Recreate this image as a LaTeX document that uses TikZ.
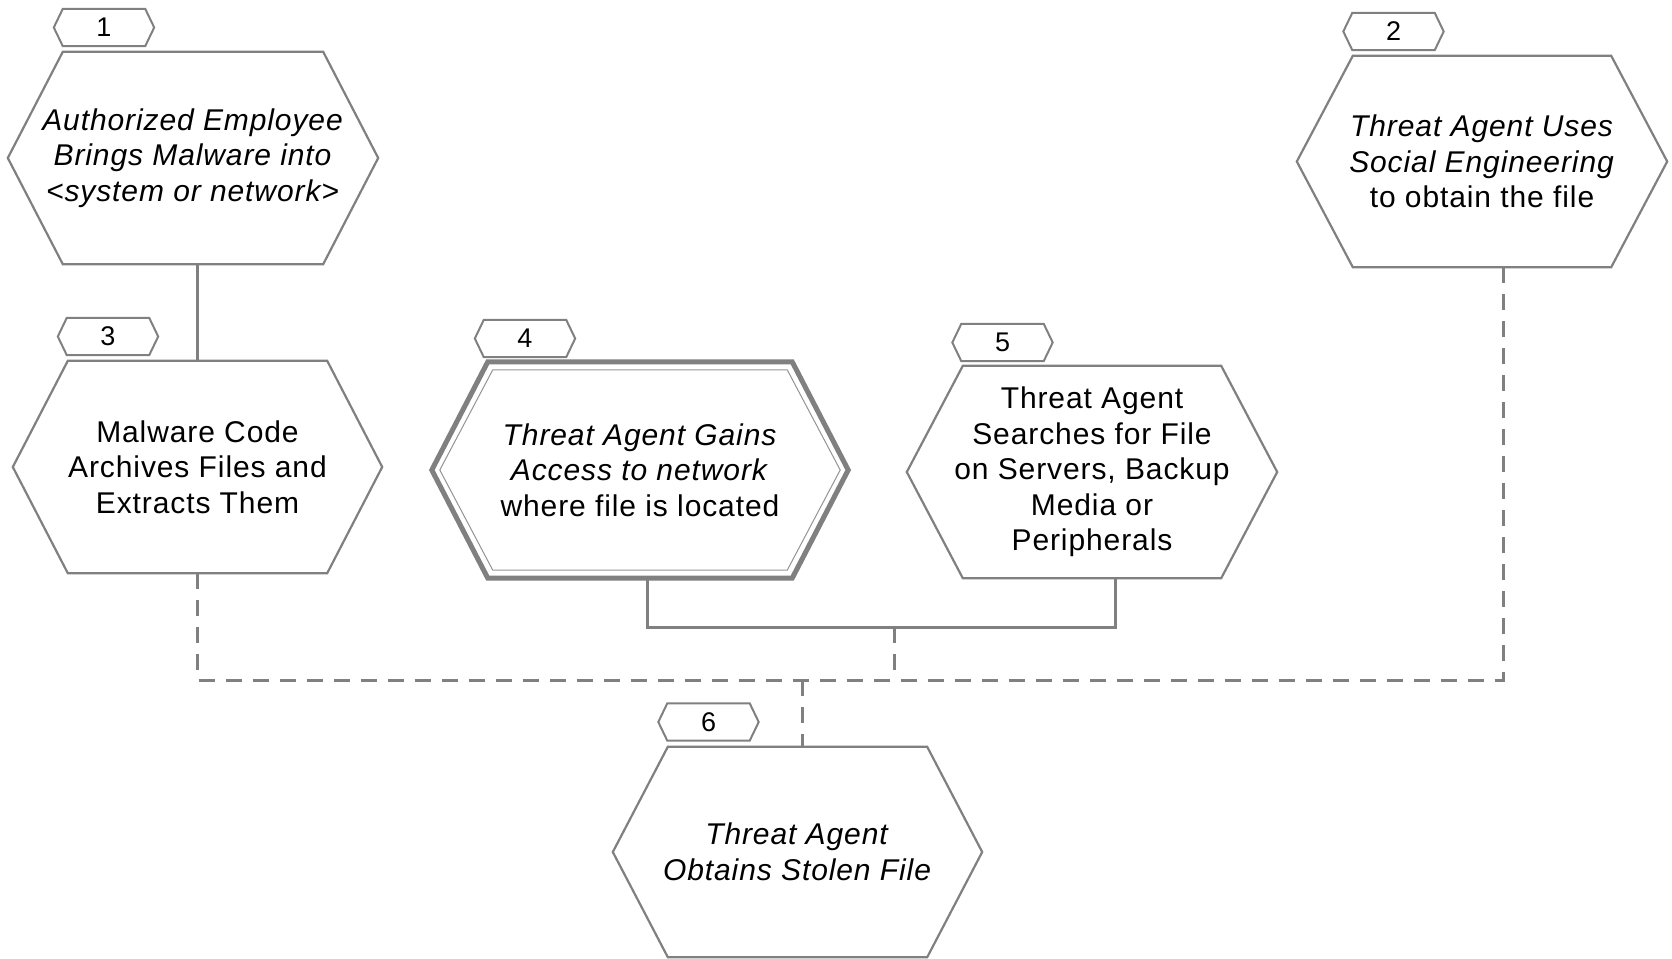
\documentclass[tikz,border=0pt]{standalone}
\usepackage{fontspec}
\setmainfont{Liberation Sans}[LetterSpace=3]
\usetikzlibrary{calc}
\definecolor{linegray}{RGB}{128,128,128}
\newcommand\bodyfont{\fontsize{30}{35.5}\selectfont}
\newcommand\labfont{\fontsize{27}{30}\selectfont}
\newcommand\hexpath[3]{%
  \draw[#3] (#1.west) -- ([xshift=#2]#1.north west) -- ([xshift=-#2]#1.north east)
    -- (#1.east) -- ([xshift=-#2]#1.south east) -- ([xshift=#2]#1.south west) -- cycle;}
\tikzset{
  hexnode/.style={rectangle, inner sep=0pt, align=center, font=\bodyfont},
  labnode/.style={rectangle, inner sep=0pt, align=center, font=\labfont,
    minimum width=100pt, minimum height=37pt},
  hexline/.style={draw=linegray, line width=2.2pt, line join=miter},
  boldline/.style={draw=linegray, line width=5pt, line join=miter},
  innerline/.style={draw=linegray!85, line width=1pt, line join=miter},
  labline/.style={draw=linegray, line width=2pt, line join=miter},
  conn/.style={draw=linegray, line width=3pt},
  dconn/.style={conn, dash pattern=on 16pt off 11pt},
}
\begin{document}
\begin{tikzpicture}[x=1pt, y=-1pt]
\path[use as bounding box] (0,0) rectangle (1672,958);

% main hexagons
\node[hexnode, minimum width=370pt, minimum height=212pt] (h1) at (193,158)
  {\textit{Authorized Employee}\\\textit{Brings Malware into}\\\textit{<system or network>}};
\hexpath{h1}{55}{hexline}

\node[hexnode, minimum width=370pt, minimum height=211pt] (h2) at (1482,161.5)
  {\textit{Threat Agent Uses}\\\textit{Social Engineering}\\to obtain the file};
\hexpath{h2}{56}{hexline}

\node[hexnode, minimum width=369pt, minimum height=212pt] (h3) at (197.5,467)
  {Malware Code\\Archives Files and\\Extracts Them};
\hexpath{h3}{55}{hexline}

\node[hexnode, minimum width=416pt, minimum height=216pt] (h4) at (640,470)
  {\textit{Threat Agent Gains}\\\textit{Access to network}\\where file is located};
\hexpath{h4}{56}{boldline}
\draw[innerline] ($(h4.west)+(8,0)$) -- ($(h4.north west)+(61,8)$) -- ($(h4.north east)+(-61,8)$)
  -- ($(h4.east)+(-8,0)$) -- ($(h4.south east)+(-61,-8)$) -- ($(h4.south west)+(61,-8)$) -- cycle;

\node[hexnode, minimum width=370pt, minimum height=212pt] (h5) at (1092,472)
  {Threat Agent\\Searches for File\\on Servers, Backup\\Media or\\Peripherals};
\hexpath{h5}{56}{hexline}

\node[hexnode, minimum width=369pt, minimum height=210pt] (h6) at (797.5,852)
  {\textit{Threat Agent}\\\textit{Obtains Stolen File}};
\hexpath{h6}{55}{hexline}

% number labels
\node[labnode] (l1) at (104,27.5) {1};
\hexpath{l1}{9}{labline}
\node[labnode] (l2) at (1393.5,31.5) {2};
\hexpath{l2}{9}{labline}
\node[labnode] (l3) at (108,336.5) {3};
\hexpath{l3}{9}{labline}
\node[labnode] (l4) at (525,338.5) {4};
\hexpath{l4}{9}{labline}
\node[labnode] (l5) at (1002.5,342.5) {5};
\hexpath{l5}{9}{labline}
\node[labnode] (l6) at (708.5,722) {6};
\hexpath{l6}{9}{labline}

% connectors
\coordinate (j45) at (894,627);
\coordinate (bus) at (802,680);
\coordinate (b2) at (1503,680);

\draw[conn] (h3.north) -- (h3.north |- h1.south);
\draw[conn] ([xshift=7]h4.south) |- (j45) -| ([xshift=23]h5.south);
\draw[dconn] (h3.south) -- (h3.south |- bus) -- (b2) -- ([xshift=21]h2.south);
\draw[dconn] (j45) -- (j45 |- bus);
\draw[dconn] (bus) -- ([xshift=4.5]h6.north);
\end{tikzpicture}
\end{document}
